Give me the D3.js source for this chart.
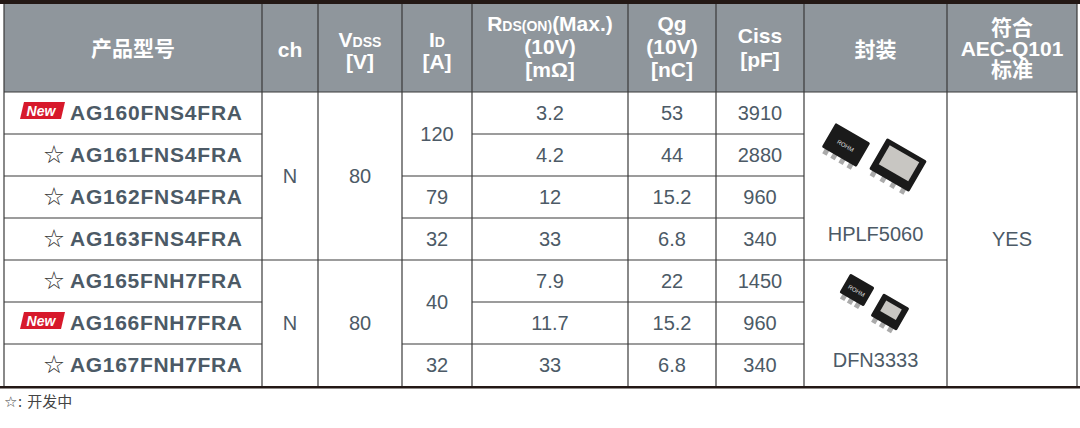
<!DOCTYPE html>
<html><head><meta charset="utf-8">
<script src="https://cdn.jsdelivr.net/npm/d3@7"></script>
<style>body{margin:0;background:#fff}svg{display:block;font-family:"Liberation Sans",Arial,"Noto Sans CJK SC",sans-serif}</style>
</head><body><svg id="c" width="1080" height="428"></svg>
<script>
const partNames=["AG160FNS4FRA","AG161FNS4FRA","AG162FNS4FRA","AG163FNS4FRA","AG165FNH7FRA","AG166FNH7FRA","AG167FNH7FRA"];
const isNew=[true,false,false,false,false,true,false];
const rdsValues=["3.2","4.2","12","33","7.9","11.7","33"];
const qgValues=["53","44","15.2","6.8","22","15.2","6.8"];
const cissValues=["3910","2880","960","340","1450","960","340"];
const chGroups=[[0,4,"N"],[4,3,"N"]];
const vdssGroups=[[0,4,"80"],[4,3,"80"]];
const idGroups=[[0,2,"120"],[2,1,"79"],[3,1,"32"],[4,2,"40"],[6,1,"32"]];
const pkgGroups=[[0,4,"HPLF5060"],[4,3,"DFN3333"]];
const aecGroups=[[0,7,"YES"]];
const colEdges=[4,262,318,402,472,628,716,804,947,1077];

const svg=d3.select("#c");
const x=i=>colEdges[i];
const headTop=4, headBot=92;
const y=d3.scaleLinear().domain([0,7]).range([headBot,386]);
const txt="#4c5a66", line="#3a3a3a", head="#8f969c";

svg.append("rect").attr("x",0).attr("y",0).attr("width",1080).attr("height",4).attr("fill","#231815");
svg.append("rect").attr("x",x(0)).attr("y",headTop).attr("width",x(9)-x(0)).attr("height",headBot-headTop).attr("fill",head);

const H=svg.append("g").attr("fill","#fff").attr("font-weight","bold").attr("text-anchor","middle");
function hline(ci,yy,parts,size=21){
  const t=H.append("text").attr("x",(x(ci)+x(ci+1))/2).attr("y",yy).attr("font-size",size);
  parts.forEach(p=>t.append("tspan").attr("font-size",p[1]||size).text(p[0]));
}
hline(0,56,[["产品型号"]]);
hline(1,57,[["ch"]]);
hline(2,47,[["V"],["DSS",14]]);hline(2,69,[["[V]"]]);
hline(3,47,[["I"],["D",14]]);hline(3,69,[["[A]"]]);
hline(4,31,[["R"],["DS(ON)",14],["(Max.)"]]);hline(4,54,[["(10V)"]]);hline(4,77,[["[mΩ]"]]);
hline(5,31,[["Qg"]]);hline(5,54,[["(10V)"]]);hline(5,77,[["[nC]"]]);
hline(6,43,[["Ciss"]]);hline(6,67,[["[pF]"]]);
hline(7,57,[["封装"]]);
hline(8,35,[["符合"]]);hline(8,56,[["AEC-Q101"]]);hline(8,77,[["标准"]]);

const B=svg.append("g").attr("fill",txt).attr("font-size",20).attr("text-anchor","middle");
partNames.forEach((p,i)=>{
  const cy=(y(i)+y(i+1))/2+7;
  B.append("text").attr("x",242).attr("y",cy).attr("text-anchor","end").attr("font-weight","bold").attr("font-size",21).attr("textLength",172).text(p);
  if(isNew[i]){
    const g=svg.append("g").attr("transform",`translate(20,${cy-18})`);
    g.append("path").attr("d","M4,0H45L41,17H0Z").attr("fill","#d7192b");
    g.append("text").attr("x",21).attr("y",14).attr("fill","#fff").attr("font-size",14).attr("font-weight","bold").attr("font-style","italic").attr("text-anchor","middle").text("New");
  } else {
    B.append("text").attr("x",54).attr("y",cy+1).attr("font-size",25).attr("fill","#333").attr("font-family","DejaVu Sans").text("☆");
  }
});
function col(ci,vals){vals.forEach((v,i)=>B.append("text").attr("x",(x(ci)+x(ci+1))/2).attr("y",(y(i)+y(i+1))/2+7).text(v));}
col(4,rdsValues);col(5,qgValues);col(6,cissValues);
function groups(ci,gs){gs.forEach(g=>B.append("text").attr("x",(x(ci)+x(ci+1))/2).attr("y",(y(g[0])+y(g[0]+g[1]))/2+7).text(g[2]));}
groups(1,chGroups);groups(2,vdssGroups);groups(3,idGroups);groups(8,aecGroups);
pkgGroups.forEach(g=>B.append("text").attr("x",(x(7)+x(8))/2).attr("y",y(g[0]+g[1])-19).text(g[2]));

const L=svg.append("g").attr("stroke",line).attr("stroke-width",1.2);
function hl(x1,x2,yy){L.append("line").attr("x1",x1).attr("x2",x2).attr("y1",yy).attr("y2",yy);}
function vl(xx,y1,y2){L.append("line").attr("x1",xx).attr("x2",xx).attr("y1",y1).attr("y2",y2);}
colEdges.forEach(e=>vl(e,headTop,386));
hl(x(0),x(9),headBot);
function gBounds(ci,gs){gs.forEach(g=>{if(g[0]>0)hl(x(ci),x(ci+1),y(g[0]));});}
for(let r=1;r<7;r++){hl(x(0),x(1),y(r));[4,5,6].forEach(c=>hl(x(c),x(c+1),y(r)));}
gBounds(1,chGroups);gBounds(2,vdssGroups);gBounds(3,idGroups);gBounds(7,pkgGroups);
svg.append("rect").attr("x",0).attr("y",386).attr("width",1080).attr("height",2.5).attr("fill","#231815");

function chip(cx,cy,w,h,top,pins){
  const g=svg.append("g").attr("transform",`translate(${cx},${cy}) rotate(30)`);
  for(let k=0;k<pins;k++)g.append("rect").attr("x",-w/2+6+k*(w-12)/(pins-1)-2.5).attr("y",h/2-1).attr("width",5).attr("height",6).attr("fill","#aaa");
  g.append("rect").attr("x",-w/2).attr("y",-h/2).attr("width",w).attr("height",h).attr("fill","#1a1a1a").attr("rx",1.5);
  if(top)g.append("rect").attr("x",-w/2+6).attr("y",-h/2+5).attr("width",w-12).attr("height",h-14).attr("fill","#c8c6c2");
  else g.append("text").attr("x",0).attr("y",3).attr("font-size",6).attr("fill","#ddd").attr("text-anchor","middle").text("ROHM");
}
chip(846,145,40,28,false,4);chip(898,165,46,36,true,4);
chip(857,290,28,22,false,3);chip(890,312,30,26,true,3);

svg.append("text").attr("x",4).attr("y",407).attr("font-size",15).attr("fill","#444").attr("font-family","DejaVu Sans,Noto Sans CJK SC").text("☆: 开发中");
</script></body></html>
